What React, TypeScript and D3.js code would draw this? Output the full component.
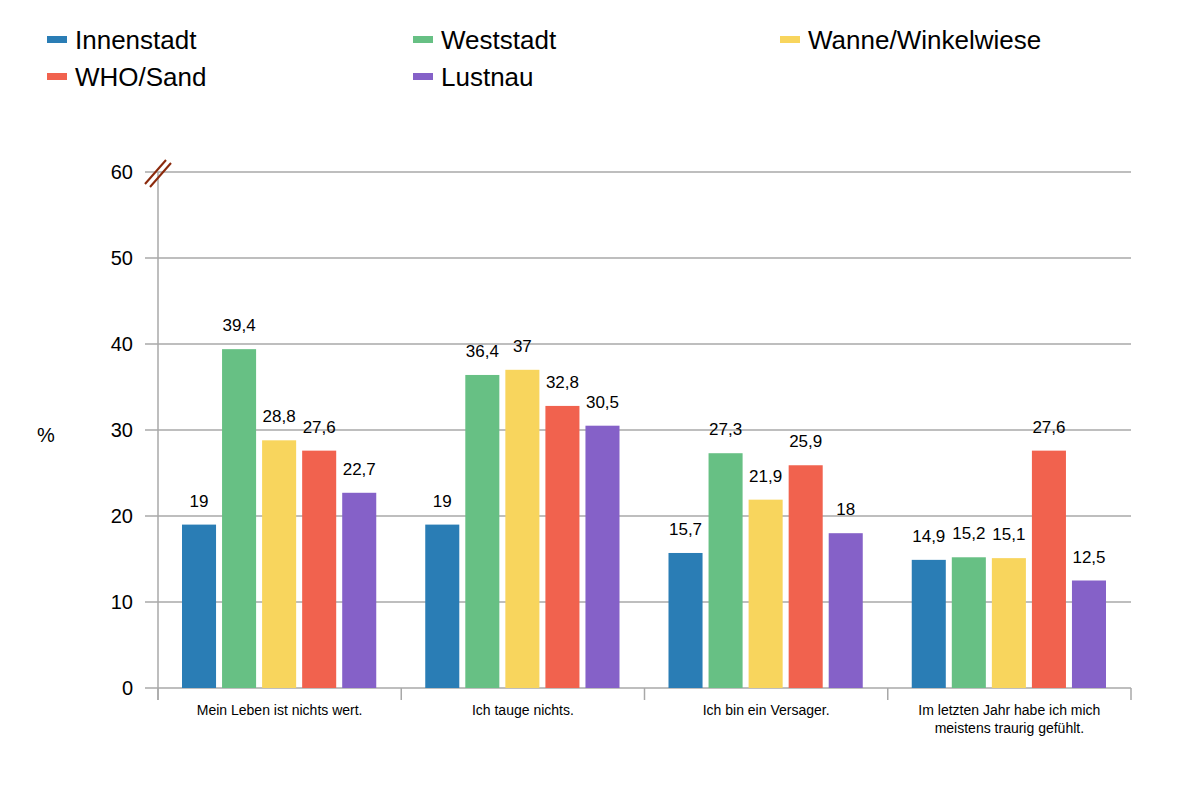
import React from "react";
import * as d3 from "d3";

const categories = [
  ["Mein Leben ist nichts wert."],
  ["Ich tauge nichts."],
  ["Ich bin ein Versager."],
  ["Im letzten Jahr habe ich mich", "meistens traurig gefühlt."],
];
const seriesNames = ["Innenstadt", "Weststadt", "Wanne/Winkelwiese", "WHO/Sand", "Lustnau"];
const seriesColors = ["#2a7db5", "#67c084", "#f8d55d", "#f1624e", "#8561c8"];
const values = [
  [19, 19, 15.7, 14.9],
  [39.4, 36.4, 27.3, 15.2],
  [28.8, 37, 21.9, 15.1],
  [27.6, 32.8, 25.9, 27.6],
  [22.7, 30.5, 18, 12.5],
];
const yTicks = [0, 10, 20, 30, 40, 50, 60];

const W = 1203, H = 789;
const left = 158, right = 1131, top = 172, bottom = 688;
const font = "Liberation Sans, Arial, sans-serif";

export default function App() {
  const y = d3.scaleLinear().domain([0, 60]).range([bottom, top]);
  const x0 = d3.scaleBand<number>().domain(d3.range(categories.length)).range([left, right]).padding(0);
  const x1 = d3.scaleBand<number>().domain(d3.range(seriesNames.length)).range([24, x0.bandwidth() - 25]).paddingInner(0.15).paddingOuter(0);
  const fmt = (v: number) => String(v).replace(".", ",");
  const legendPos = [
    [47, 40], [413, 40], [780, 40], [47, 77], [413, 77],
  ];
  return (
    <svg width={W} height={H} style={{ position: "absolute", left: 0, top: 0 }} fontFamily={font}>
      <rect width={W} height={H} fill="#fff" />
      {legendPos.map(([lx, ly], i) => (
        <g key={i}>
          <rect x={lx} y={ly - 4} width={20} height={7} fill={seriesColors[i]} />
          <text x={lx + 28} y={ly + 9} fontSize={26} fill="#000">{seriesNames[i]}</text>
        </g>
      ))}
      {yTicks.map((t) => (
        <g key={t}>
          <line x1={145} x2={right} y1={y(t)} y2={y(t)} stroke="#a8a8a8" strokeWidth={1.5} />
          <text x={133} y={y(t) + 7} fontSize={20} textAnchor="end" fill="#000">{t}</text>
        </g>
      ))}
      <line x1={left} x2={left} y1={top} y2={700} stroke="#a8a8a8" strokeWidth={1.5} />
      {d3.range(categories.length + 1).map((i) => {
        const xx = i < categories.length ? x0(i)! : right;
        return <line key={i} x1={xx} x2={xx} y1={bottom} y2={700} stroke="#a8a8a8" strokeWidth={1.5} />;
      })}
      <g stroke="#8b2a0c" strokeWidth={2}>
        <line x1={145} y1={184} x2={166} y2={160} />
        <line x1={150} y1={187} x2={171} y2={163} />
      </g>
      <text x={37} y={442} fontSize={20} fill="#000">%</text>
      {categories.map((cat, ci) => (
        <g key={ci}>
          {seriesNames.map((_, si) => {
            const v = values[si][ci];
            const bx = x0(ci)! + x1(si)!;
            return (
              <g key={si}>
                <rect x={bx} y={y(v)} width={x1.bandwidth()} height={bottom - y(v)} fill={seriesColors[si]} />
                <text x={bx + x1.bandwidth() / 2} y={y(v) - 18} fontSize={17} textAnchor="middle" fill="#000">{fmt(v)}</text>
              </g>
            );
          })}
          {cat.map((line, li) => (
            <text key={li} x={x0(ci)! + x0.bandwidth() / 2} y={715 + li * 18} fontSize={14} textAnchor="middle" fill="#000">{line}</text>
          ))}
        </g>
      ))}
    </svg>
  );
}
